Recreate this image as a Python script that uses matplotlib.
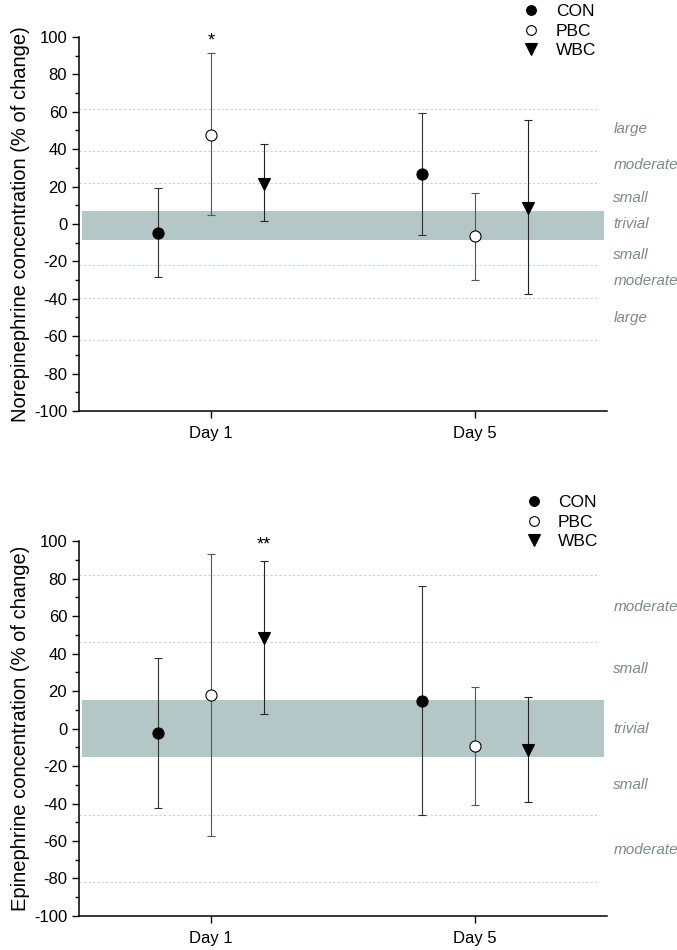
import numpy as np
import matplotlib
matplotlib.use("Agg")
import matplotlib.pyplot as plt
from matplotlib.ticker import MultipleLocator

plt.rcParams['font.family'] = ['Liberation Sans', 'DejaVu Sans']
plt.rcParams['axes.unicode_minus'] = False

days = ["Day 1", "Day 5"]
groups = ["CON", "PBC", "WBC"]

# norepinephrine (% change), mean and error bar ends
ne_mean = {"CON": [-4.8, 26.5], "PBC": [47.8, -6.5], "WBC": [21.4, 8.5]}
ne_hi = {"CON": [19.1, 59.1], "PBC": [91.4, 16.8], "WBC": [42.7, 55.4]}
ne_lo = {"CON": [-28.4, -5.8], "PBC": [4.6, -29.7], "WBC": [1.4, -37.4]}
ne_band = [-8.8, 6.7]
ne_lines = [61.5, 39.2, 22.1, -22.2, -39.7, -61.8]
ne_zone_y = [51, 31.6, 14, 0, -16.6, -30.7, -50.5]
ne_zone_txt = ["large", "moderate", "small", "trivial", "small", "moderate", "large"]

# epinephrine
ep_mean = {"CON": [-2.3, 14.5], "PBC": [17.8, -9.4], "WBC": [48.1, -11.7]}
ep_hi = {"CON": [37.8, 76.0], "PBC": [93.1, 22.4], "WBC": [89.2, 16.8]}
ep_lo = {"CON": [-42.6, -46.3], "PBC": [-57.4, -41.0], "WBC": [7.9, -39.4]}
ep_band = [-15.2, 15.0]
ep_lines = [82, 46.1, -46.3, -81.8]
ep_zone_y = [64.8, 32, 0, -30, -65]
ep_zone_txt = ["moderate", "small", "trivial", "small", "moderate"]

offsets = {"CON": -0.2, "PBC": 0.0, "WBC": 0.2}
styles = {"CON": dict(marker='o', mfc='black', mec='black'),
          "PBC": dict(marker='o', mfc='white', mec='black'),
          "WBC": dict(marker='v', mfc='black', mec='black')}
ebar_col = {"CON": '#333333', "PBC": '#555555', "WBC": '#222222'}

band_col = '#b3c7c7'
zone_col = '#7b8a8a'


def panel(ax, mean, hi, lo, band, lines, zone_y, zone_txt, stars, ylabel):
    x = np.arange(1, len(days) + 1)
    ax.axhspan(band[0], band[1], xmin=0.006, xmax=0.994, color=band_col, lw=0, zorder=0)
    for yl in lines:
        ax.axhline(yl, xmin=0.0, xmax=0.985, color='#c8cfcf', lw=0.8, ls=(0, (2, 2)), zorder=0)
    handles = []
    for g in groups:
        m = np.array(mean[g])
        err = [m - np.array(lo[g]), np.array(hi[g]) - m]
        ax.errorbar(x + offsets[g], m, yerr=err, fmt='none', ecolor=ebar_col[g],
                    elinewidth=0.8, capsize=3, capthick=0.8, zorder=2)
        ax.plot(x + offsets[g], m, ls='none', ms=8 if g != "WBC" else 9,
                mew=0.8, zorder=3, **styles[g])
        # smaller copy for the legend
        h, = ax.plot([], [], ls='none', ms=7 if g != "WBC" else 8, mew=0.8, **styles[g])
        handles.append(h)
    for (xi, yi, s) in stars:
        ax.text(xi, yi, s, ha='center', va='center', fontsize=13)
    ax.set_xlim(0.5, 2.5)
    ax.set_ylim(-100, 100)
    ax.set_xticks(x)
    ax.set_xticklabels(days, fontsize=12)
    ax.yaxis.set_major_locator(MultipleLocator(20))
    ax.yaxis.set_minor_locator(MultipleLocator(10))
    ax.tick_params(axis='y', labelsize=12, direction='out', length=5, width=1)
    ax.tick_params(axis='y', which='minor', length=3, width=1)
    ax.tick_params(axis='x', direction='out', length=5, width=1, pad=6)
    for s in ['top', 'right']:
        ax.spines[s].set_visible(False)
    for s in ['left', 'bottom']:
        ax.spines[s].set_linewidth(1.1)
    ax.set_ylabel(ylabel, fontsize=14.5, labelpad=3)
    tr = ax.get_yaxis_transform()
    for yz, t in zip(zone_y, zone_txt):
        ax.text(1.012, yz, t, transform=tr, ha='left', va='center', fontsize=11,
                style='italic', color=zone_col, clip_on=False)
    return handles


fig = plt.figure(figsize=(6.77, 9.5), dpi=100)
ax1 = fig.add_axes([0.1167, 0.5674, 0.78, 0.3937])
ax2 = fig.add_axes([0.1167, 0.0358, 0.78, 0.3947])

h1 = panel(ax1, ne_mean, ne_hi, ne_lo, ne_band, ne_lines, ne_zone_y, ne_zone_txt,
           [(1.0, 98, "*")], "Norepinephrine concentration (% of change)")
h2 = panel(ax2, ep_mean, ep_hi, ep_lo, ep_band, ep_lines, ep_zone_y, ep_zone_txt,
           [(1.2, 98, "**")], "Epinephrine concentration (% of change)")

leg_kw = dict(frameon=False, fontsize=12.5, handletextpad=0.9, labelspacing=0.25,
              handlelength=1.0, borderaxespad=0, numpoints=1)
fig.legend(handles=h1, labels=groups, loc='upper left', bbox_to_anchor=(0.762, 1.003), **leg_kw)
fig.legend(handles=h2, labels=groups, loc='upper left', bbox_to_anchor=(0.765, 0.486), **leg_kw)

fig.savefig("out.png", dpi=100)
